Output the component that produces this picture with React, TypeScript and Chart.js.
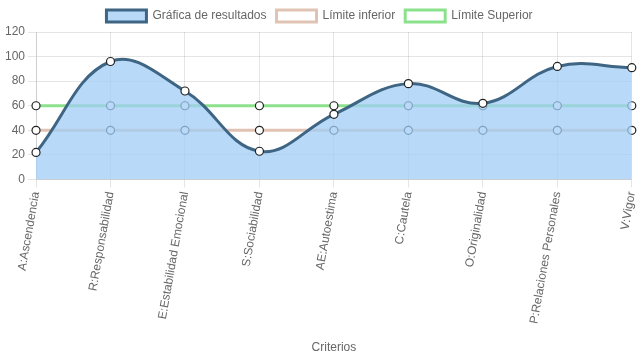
import React, { useEffect, useRef } from "react";
import { Chart, registerables } from "chart.js";

Chart.register(...registerables);

const categories = [
  "A:Ascendencia",
  "R:Responsabilidad",
  "E:Estabilidad Emocional",
  "S:Sociabilidad",
  "AE:Autoestima",
  "C:Cautela",
  "O:Originalidad",
  "P:Relaciones Personales",
  "V:Vigor",
];
const results = [22, 96, 72, 23, 53, 78, 62, 92, 91];
const lowerLimit = [40, 40, 40, 40, 40, 40, 40, 40, 40];
const upperLimit = [60, 60, 60, 60, 60, 60, 60, 60, 60];

export default function App() {
  const ref = useRef<HTMLCanvasElement>(null);
  useEffect(() => {
    if (!ref.current) return;
    Chart.defaults.font.family = "'Liberation Sans', Arial, sans-serif";
    Chart.defaults.font.size = 12;
    Chart.defaults.color = "#666";
    const chart = new Chart(ref.current, {
      type: "line",
      data: {
        labels: categories,
        datasets: [
          {
            label: "Gráfica de resultados",
            data: results,
            borderColor: "#3f6584",
            backgroundColor: "rgba(160,205,245,0.75)",
            borderWidth: 3,
            fill: "origin",
            tension: 0.4,
            pointRadius: 4,
            pointBackgroundColor: "#fff",
            pointBorderColor: "#222",
            pointBorderWidth: 1.2,
          },
          {
            label: "Límite inferior",
            data: lowerLimit,
            borderColor: "rgba(225,195,180,1)",
            backgroundColor: "#fff",
            borderWidth: 3,
            fill: false,
            tension: 0,
            pointRadius: 4,
            pointBackgroundColor: "#fff",
            pointBorderColor: "#222",
            pointBorderWidth: 1.2,
          },
          {
            label: "Límite Superior",
            data: upperLimit,
            borderColor: "rgba(140,225,140,1)",
            backgroundColor: "#fff",
            borderWidth: 3,
            fill: false,
            tension: 0,
            pointRadius: 4,
            pointBackgroundColor: "#fff",
            pointBorderColor: "#222",
            pointBorderWidth: 1.2,
          },
        ],
      },
      options: {
        animation: false,
        responsive: true,
        maintainAspectRatio: false,
        layout: { padding: { left: 2 } },
        plugins: {
          legend: {
            labels: { boxWidth: 40, boxHeight: 12, color: "#666" },
          },
          tooltip: { enabled: false },
        },
        scales: {
          x: {
            grid: { color: "rgba(0,0,0,0.1)" },
            ticks: { minRotation: 80, maxRotation: 80, autoSkip: false },
            title: {
              display: true,
              text: "Criterios",
              color: "#666",
              padding: { top: 14, bottom: 4 },
            },
            afterFit: (scale: any) => {
              scale.paddingRight = 2;
            },
          },
          y: {
            min: 0,
            max: 120,
            ticks: { stepSize: 20 },
            grid: { color: "rgba(0,0,0,0.1)" },
          },
        },
      },
    });
    return () => chart.destroy();
  }, []);
  return (
    <div style={{ position: "fixed", left: 0, top: 0, width: 637, height: 359 }}>
      <canvas ref={ref} />
    </div>
  );
}
